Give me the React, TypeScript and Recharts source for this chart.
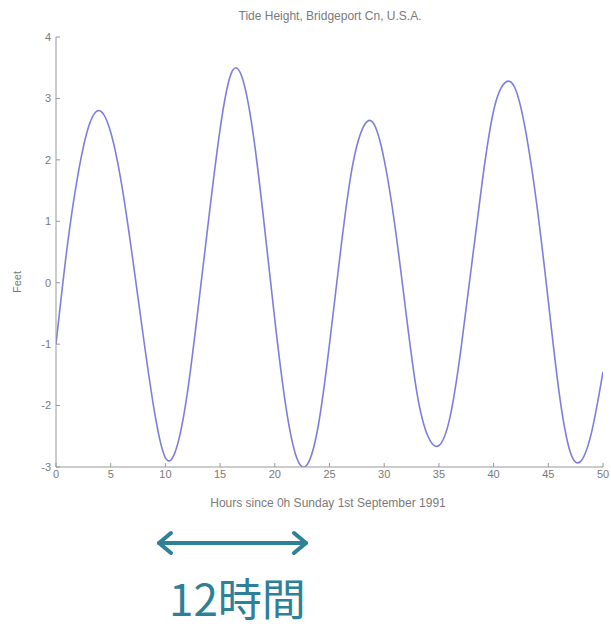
import React from 'react'
import { LineChart, Line, XAxis, YAxis } from 'recharts'

const hours = [
  0, 1, 2, 3, 4, 5, 6, 7, 8, 9, 10, 11, 12, 13, 14, 15, 16, 17, 18, 19, 20, 21, 22, 23, 24, 25,
  26, 27, 28, 29, 30, 31, 32, 33, 34, 35, 36, 37, 38, 39, 40, 41, 42, 43, 44, 45, 46, 47, 48, 49, 50,
]
const feet = [
  -1.0, 0.55, 1.75, 2.55, 2.8, 2.45, 1.6, 0.4, -0.9, -2.1, -2.85, -2.7, -1.8, -0.4, 1.1, 2.5, 3.4,
  3.35, 2.45, 1.0, -0.6, -2.0, -2.85, -2.95, -2.3, -1.0, 0.5, 1.8, 2.5, 2.6, 2.0, 0.9, -0.5, -1.8,
  -2.5, -2.65, -2.2, -1.1, 0.3, 1.7, 2.8, 3.25, 3.15, 2.4, 1.2, -0.3, -1.8, -2.75, -2.9, -2.4, -1.45,
]
const xTicks = [0, 5, 10, 15, 20, 25, 30, 35, 40, 45, 50]
const yTicks = [-3, -2, -1, 0, 1, 2, 3, 4]

const data = hours.map((h, i) => ({ hour: h, feet: feet[i] }))

const gray = '#7a7a7a'
const teal = '#2e8098'
const tick = { fontSize: 11, fill: gray, fontFamily: 'Liberation Sans, Arial, sans-serif' }

export default function App() {
  return (
    <div style={{ position: 'absolute', left: 0, top: 0, width: 611, height: 629, background: '#fff' }}>
      <div
        style={{
          position: 'absolute', left: 0, width: 660, top: 9, textAlign: 'center',
          fontSize: 12, color: gray, fontFamily: 'Liberation Sans, Arial, sans-serif',
        }}
      >
        Tide Height, Bridgeport Cn, U.S.A.
      </div>
      <LineChart width={611} height={629} data={data} margin={{ top: 37, right: 8, bottom: 132, left: 26 }}>
        <XAxis
          dataKey="hour"
          type="number"
          domain={[0, 50]}
          ticks={xTicks}
          height={30}
          stroke="#999"
          tick={tick}
          tickSize={-4}
          tickMargin={7}
          allowDataOverflow
        />
        <YAxis
          type="number"
          domain={[-3, 4]}
          ticks={yTicks}
          width={30}
          stroke="#999"
          tick={tick}
          tickSize={-4}
          tickMargin={9}
          allowDataOverflow
        />
        <Line
          type="natural"
          dataKey="feet"
          stroke="#7e7ee0"
          strokeWidth={1.6}
          dot={false}
          isAnimationActive={false}
        />
      </LineChart>
      <div
        style={{
          position: 'absolute', left: 6, top: 276, transform: 'rotate(-90deg)',
          fontSize: 11, color: gray, fontFamily: 'Liberation Sans, Arial, sans-serif',
        }}
      >
        Feet
      </div>
      <div
        style={{
          position: 'absolute', left: 0, width: 656, top: 496, textAlign: 'center',
          fontSize: 12, color: gray, fontFamily: 'Liberation Sans, Arial, sans-serif',
        }}
      >
        Hours since 0h Sunday 1st September 1991
      </div>
      <svg style={{ position: 'absolute', left: 0, top: 0 }} width={611} height={629}>
        <g stroke={teal} strokeWidth={4} fill="none" strokeLinecap="round" strokeLinejoin="round">
          <line x1={159} y1={543} x2={306} y2={543} />
          <polyline points="171,533 159,543 171,553" />
          <polyline points="294,533 306,543 294,553" />
        </g>
      </svg>
      <div
        style={{
          position: 'absolute', left: 169, top: 572, fontSize: 44, lineHeight: '50px', color: teal,
          fontFamily: '"Noto Sans CJK JP", sans-serif',
        }}
      >
        12時間
      </div>
    </div>
  )
}
